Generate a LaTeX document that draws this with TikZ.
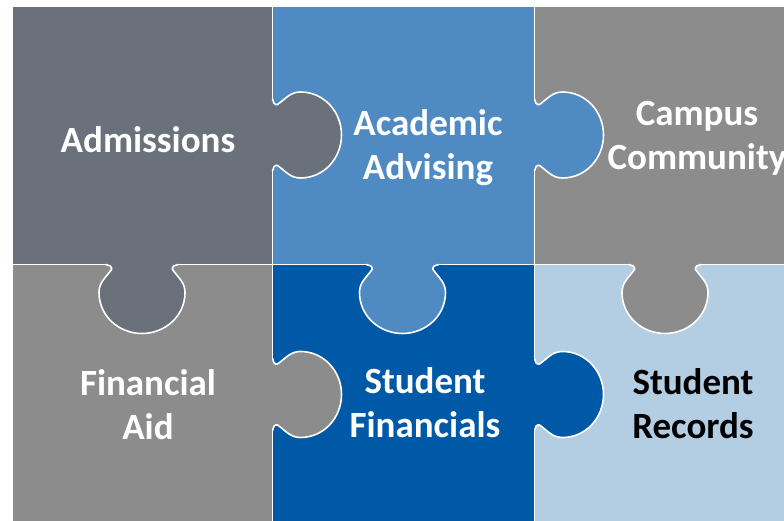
\documentclass[tikz,border=0pt]{standalone}
\usepackage{fontspec}
\setmainfont{Carlito}

\definecolor{admgray}{RGB}{106,113,123}
\definecolor{acablue}{RGB}{79,139,194}
\definecolor{midgray}{RGB}{140,140,140}
\definecolor{finblue}{RGB}{0,89,166}
\definecolor{recblue}{RGB}{179,205,227}

\begin{document}
\begin{tikzpicture}
    [x=1pt,y=1pt,
     piece/.style={draw=white,line width=1.5pt},
     every node/.style={font=\fontsize{37}{44}\selectfont\bfseries,text=white,align=center,anchor=base},
     knob/.pic={
       \fill[pic actions] (-2,36) -- (0,36) to[out=-90,in=200] (5,30.5) to[out=35,in=180] (28,43)
         to[out=0,in=90] (69,0) to[out=-90,in=0] (28,-43) to[out=180,in=-35] (5,-30.5)
         to[out=160,in=90] (0,-36) -- (-2,-36) -- cycle;
       \draw[white,line width=1.6pt] (0,36) to[out=-90,in=200] (5,30.5) to[out=35,in=180] (28,43)
         to[out=0,in=90] (69,0) to[out=-90,in=0] (28,-43) to[out=180,in=-35] (5,-30.5)
         to[out=160,in=90] (0,-36);
     }]
    \useasboundingbox (0,0) rectangle (784,521);
    \clip (0,0) rectangle (784,521);

    % the six pieces
    \draw[piece,fill=admgray] (12.5,256.5) rectangle (272.5,515);
    \draw[piece,fill=acablue] (272.5,256.5) rectangle (534.5,515);
    \draw[piece,fill=midgray] (534.5,256.5) rectangle (790,515);
    \draw[piece,fill=midgray] (12.5,-5) rectangle (272.5,256.5);
    \draw[piece,fill=finblue] (272.5,-5) rectangle (534.5,256.5);
    \draw[piece,fill=recblue] (534.5,-5) rectangle (790,256.5);

    % tabs
    \pic[fill=admgray] at (272.5,386) {knob};
    \pic[fill=acablue] at (534.5,386) {knob};
    \pic[fill=admgray,rotate=-90] at (142,256.5) {knob};
    \pic[fill=acablue,rotate=-90] at (402.5,256.5) {knob};
    \pic[fill=midgray,rotate=-90] at (665,256.5) {knob};
    \pic[fill=midgray] at (272.5,126.5) {knob};
    \pic[fill=finblue] at (534.5,126.5) {knob};

    % labels (base = last line)
    \node (adm) at (148,368) {Admissions};
    \node (aca) at (428,341) {Academic\\Advising};
    \node (cam) at (697,351) {Campus\\Community};
    \node (fin) at (148,81) {Financial\\Aid};
    \node (sfin) at (425,83) {Student\\Financials};
    \node[text=black] (rec) at (693,82) {Student\\Records};
\end{tikzpicture}
\end{document}
